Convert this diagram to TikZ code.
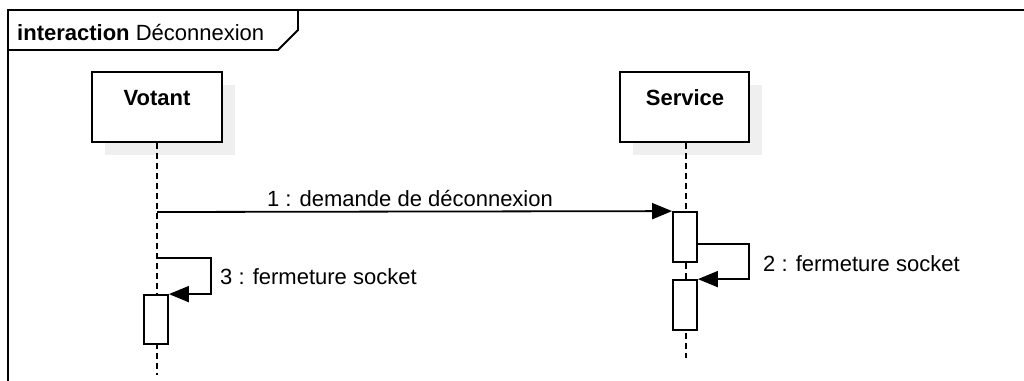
\documentclass[tikz,border=0pt]{standalone}
\usepackage{fontspec}
\setmainfont{Liberation Sans}
\usetikzlibrary{arrows.meta,calc}
\definecolor{shadowgray}{HTML}{EFEFEF}
\begin{document}
\begin{tikzpicture}[x=1pt,y=-1pt,
  every node/.style={font=\fontsize{22}{26}\selectfont, inner sep=0pt},
  frameline/.style={draw=black, line width=1.8pt},
  lifebox/.style={draw=black, fill=white, line width=1.8pt, minimum width=130pt, minimum height=70pt},
  boxshadow/.style={fill=shadowgray},
  lifeline/.style={draw=black, line width=1.8pt, dash pattern=on 6pt off 4pt},
  actbox/.style={draw=black, fill=white, line width=1.8pt},
  msg/.style={draw=black, line width=1.8pt, -{Triangle[length=20pt,width=16pt]}},
  lbl/.style={anchor=base west}
]
\useasboundingbox (0,0) rectangle (1024,380);
\fill[white] (0,0) rectangle (1024,380);

% frame
\draw[frameline] (1030,10) -- (8,10) -- (8,390);
\draw[frameline] (8,50) -- (278,50) -- (298,30) -- (298,10);
\node[anchor=base west] (title) at (17,40) {\textbf{interaction} Déconnexion};

% shadows
\fill[boxshadow] (105,85) rectangle (235,155);
\fill[boxshadow] (633,85) rectangle (762,155);

% lifelines
\node[lifebox] (votant) at (157,107) {};
\node[anchor=base] (votantt) at (157,105) {\textbf{Votant}};
\node[lifebox, minimum width=129pt] (service) at (684.5,107) {};
\node[anchor=base] (servicet) at (685,105) {\textbf{Service}};

\coordinate (vend) at (157,375);
\coordinate (send) at (686,358);
\draw[lifeline] (votant.south -| vend) -- (vend);
\draw[lifeline] (service.south -| send) -- (send);

% activations
\node[actbox, minimum width=24pt, minimum height=50pt] (act1) at (685,237) {};
\node[actbox, minimum width=24pt, minimum height=50pt] (act2) at (685,305) {};
\node[actbox, minimum width=24pt, minimum height=49pt] (act3) at (156,319.5) {};

% message 1
\coordinate (m1s) at (157,212);
\draw[msg] (m1s) -- (act1.north west);
\node[anchor=base] (l1) at (410,206) {1 : demande de déconnexion};

% message 2 (self on Service)
\coordinate (m2s) at (697,244);
\coordinate (m2r) at (749,244);
\draw[msg] (m2s) -- (m2r) -- (m2r |- act2.north east) -- (act2.north east);
\node[lbl] (l2) at (763,271) {2 : fermeture socket};

% message 3 (self on Votant)
\coordinate (m3s) at (157,258);
\coordinate (m3r) at (211,258);
\draw[msg] (m3s) -- (m3r) -- (m3r |- act3.north east) -- (act3.north east);
\node[lbl] (l3) at (220,284) {3 : fermeture socket};
\end{tikzpicture}
\end{document}
